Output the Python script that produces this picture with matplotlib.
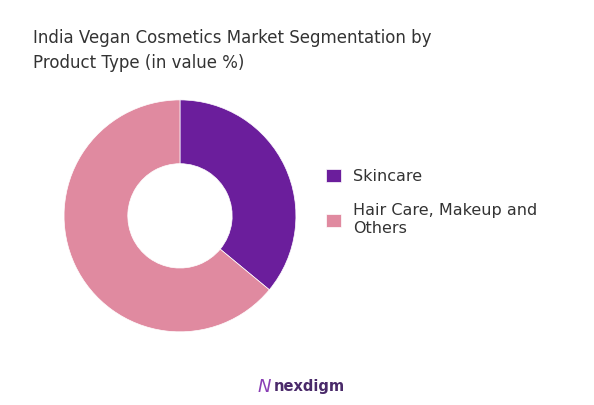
import matplotlib.pyplot as plt

labels = ['Skincare', 'Hair Care, Makeup and\nOthers']
values = [36, 64]
colors = ['#6B1E9C', '#E08AA0']

fig = plt.figure(figsize=(5.94, 4.05), dpi=100)
ax = fig.add_axes([0.059, 0.109, 0.488, 0.716])
wedges, _ = ax.pie(values, colors=colors, startangle=90, counterclock=False,
                   wedgeprops=dict(width=0.55, edgecolor='white', linewidth=0.5))
ax.set_aspect('equal')

fig.text(0.055, 0.875, 'India Vegan Cosmetics Market Segmentation by\nProduct Type (in value %)',
         fontsize=12, color='#333333', va='center', linespacing=1.5)

fig.legend(wedges, labels, loc='center left', bbox_to_anchor=(0.525, 0.5),
           frameon=False, fontsize=11.5, labelcolor='#333333',
           handlelength=0.9, handleheight=0.9, labelspacing=1.2)

fig.text(0.52, 0.045, 'nexdigm', fontsize=10.5, color='#4a2a6a', ha='center', va='center',
         fontweight='bold')
fig.text(0.445, 0.045, 'N', fontsize=13, color='#8A3FB5', ha='center', va='center',
         style='italic')

fig.savefig('out.png', dpi=100, facecolor='white')
